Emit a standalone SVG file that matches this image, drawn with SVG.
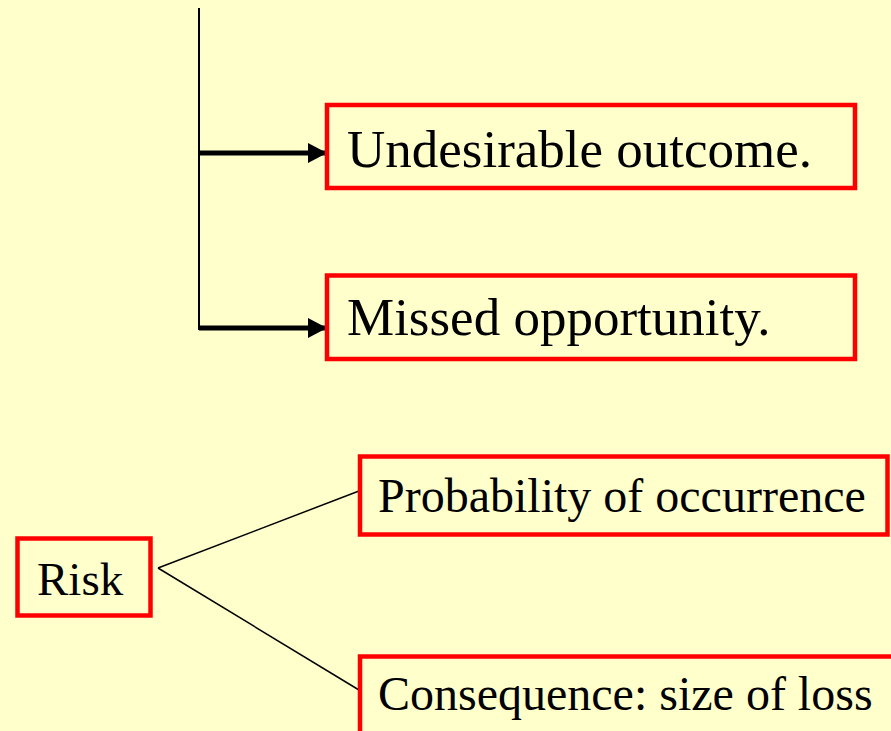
<svg xmlns="http://www.w3.org/2000/svg" width="891" height="731" viewBox="0 0 891 731">
<style>
.box{fill:none;stroke:#FF0000;stroke-width:4.5}
.t{font-family:"Liberation Serif","Times New Roman",serif;fill:#000}
.thin{stroke:#000;stroke-width:1.5;fill:none}
.thick{stroke:#000;stroke-width:5;fill:none}
</style>
<defs>
<marker id="ah" markerWidth="22" markerHeight="22" refX="19" refY="10" orient="auto" markerUnits="userSpaceOnUse">
<path d="M0,0 L19,10 L0,20 Z" fill="#000"/>
</marker>
</defs>
<rect width="891" height="731" fill="#FFFFCC"/>
<g id="connectors">
<line class="thin" x1="199" y1="8" x2="199" y2="330" style="stroke-width:2"/>
<line class="thick" x1="199" y1="153" x2="327" y2="153" marker-end="url(#ah)"/>
<line class="thick" x1="199" y1="328" x2="327" y2="328" marker-end="url(#ah)"/>
<line class="thin" x1="158" y1="568" x2="359" y2="491"/>
<line class="thin" x1="158" y1="568" x2="359" y2="690"/>
</g>
<g id="undesirable">
<rect class="box" x="327" y="105" width="528" height="83"/>
<text class="t" x="347" y="167" font-size="53">Undesirable outcome.</text>
</g>
<g id="missed">
<rect class="box" x="327" y="275.5" width="528" height="83.5"/>
<text class="t" x="347" y="335" font-size="53">Missed opportunity.</text>
</g>
<g id="risk">
<rect class="box" x="17.5" y="538.5" width="133" height="77"/>
<text class="t" x="37" y="595" font-size="47">Risk</text>
</g>
<g id="probability">
<rect class="box" x="360" y="456.5" width="527.5" height="78"/>
<text class="t" x="378" y="512" font-size="48">Probability of occurrence</text>
</g>
<g id="consequence">
<rect class="box" x="360" y="656.5" width="540" height="100"/>
<text class="t" x="378" y="710" font-size="48">Consequence: size of loss</text>
</g>
</svg>
